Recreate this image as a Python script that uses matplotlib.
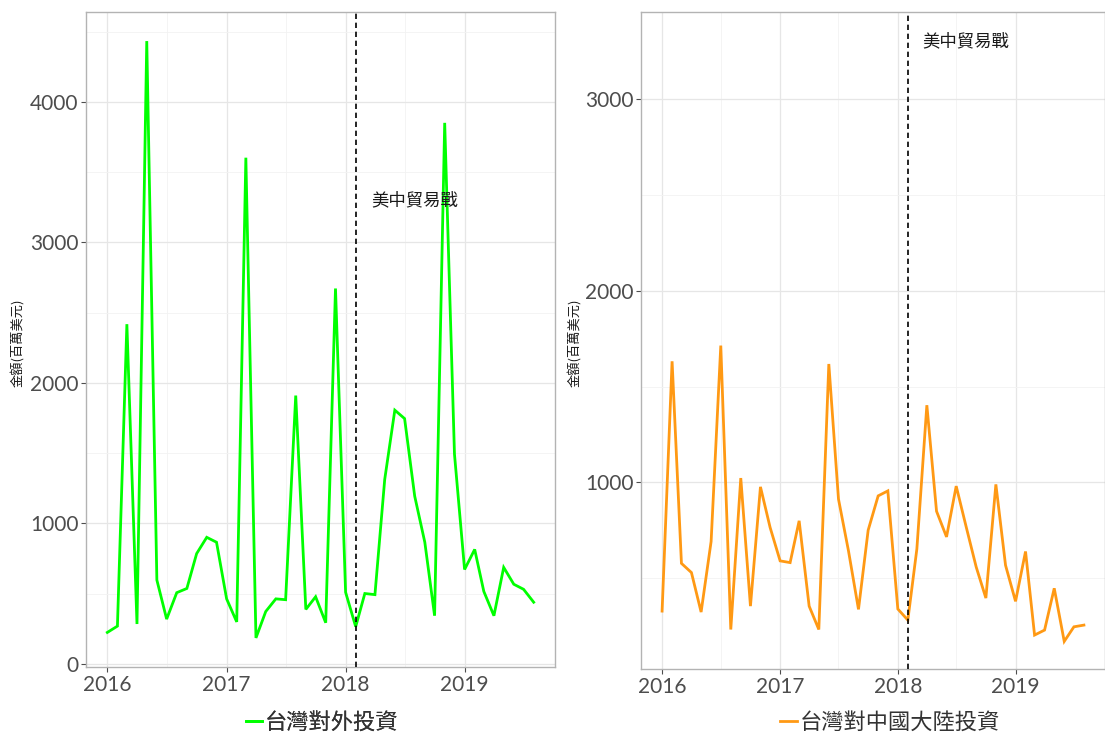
import matplotlib
matplotlib.use("Agg")
import matplotlib.pyplot as plt
import matplotlib.dates as mdates
import pandas as pd
import numpy as np
from matplotlib.lines import Line2D

months = pd.date_range("2016-01-01", "2019-08-01", freq="MS")

outward = [224, 269, 2418, 284, 4433, 597, 319, 507, 537, 785, 901, 866,
           463, 299, 3603, 185, 373, 463, 457, 1910, 388, 478, 293, 2672,
           510, 265, 501, 493, 1313, 1806, 1746, 1194, 866, 343, 3851, 1493,
           672, 815, 516, 343, 687, 567, 531, 439]

china = [329, 1632, 578, 530, 324, 692, 1714, 233, 1023, 355, 977, 765,
         591, 582, 800, 355, 233, 1618, 913, 643, 338, 751, 930, 956,
         340, 282, 653, 1403, 850, 716, 981, 768, 559, 397, 990, 568,
         380, 640, 204, 230, 448, 171, 247, 256]

labels = ["台灣對外投資", "台灣對中國大陸投資"]
colors = ["#00FF00", "#FF9914"]
event_date = pd.Timestamp("2018-02-01")
event_label = "美中貿易戰"
text_date = pd.Timestamp("2018-08-01")
text_y = 3300
ylabel = "金額(百萬美元)"
year_ticks = [pd.Timestamp(f"{y}-01-01") for y in (2016, 2017, 2018, 2019)]
minor_x = [pd.Timestamp(f"{y}-07-01") for y in (2016, 2017, 2018)]

CJK = ["Noto Sans CJK TC", "DejaVu Sans"]
NUM = ["Lato", "DejaVu Sans"]

fig = plt.figure(figsize=(11.05, 7.36), dpi=100)
W, H = 1105, 736
ax1 = fig.add_axes([86 / W, 1 - 667 / H, (555 - 86) / W, (667 - 12) / H])
ax2 = fig.add_axes([641 / W, 1 - 669 / H, (1105 - 641) / W, (669 - 12) / H])

x0 = mdates.date2num(months[0]); x1 = mdates.date2num(months[-1])
pad = (x1 - x0) * 0.05

configs = [
    (ax1, outward, colors[0], labels[0], (-22, 4640), [0, 1000, 2000, 3000, 4000],
     [500, 1500, 2500, 3500, 4500], 18),
    (ax2, china, colors[1], labels[1], (27, 3454), [1000, 2000, 3000],
     [500, 1500, 2500], 575),
]

for ax, vals, col, lab, ylim, yt, ymin, ylab_x in configs:
    ax.plot(months, vals, color=col, lw=2.0, solid_joinstyle="miter", zorder=3)
    ax.axvline(event_date, color="black", ls=(0, (3.2, 2.2)), lw=1.2, zorder=4)
    ax.text(text_date, text_y, event_label, ha="center", va="center",
            fontsize=12.5, family=CJK, color="#1a1a1a", zorder=5)
    ax.set_xticks(year_ticks)
    ax.set_xticklabels([str(d.year) for d in year_ticks])
    ax.set_xticks(minor_x, minor=True)
    ax.set_yticks(yt)
    ax.set_yticks(ymin, minor=True)
    ax.set_xlim(x0 - pad, x1 + pad)
    ax.set_ylim(*ylim)
    ax.grid(True, which="major", color="#E6E6E6", lw=0.9, zorder=0)
    ax.grid(True, which="minor", color="#F2F2F2", lw=0.6, zorder=0)
    ax.set_axisbelow(True)
    for s in ax.spines.values():
        s.set_color("#B3B3B3")
        s.set_linewidth(1.0)
    ax.tick_params(which="major", length=3.5, width=0.8, color="#4D4D4D",
                   labelsize=15, labelcolor="#4D4D4D", pad=2)
    ax.tick_params(which="minor", length=0)
    for t in ax.get_xticklabels() + ax.get_yticklabels():
        t.set_family(NUM)
    fig.text(ylab_x / W, 1 - 343 / H, ylabel, rotation=90, ha="center",
             va="center", fontsize=9.5, family=CJK, color="#1a1a1a")

# legends
def legend_at(cx, label, col):
    leg = fig.legend(handles=[Line2D([], [], color=col, lw=2.0)], labels=[label],
                     loc="center", bbox_to_anchor=(cx / W, 1 - 722 / H),
                     frameon=False, handlelength=0.75, handletextpad=0.1,
                     prop={"family": CJK, "size": 16})
    for t in leg.get_texts():
        t.set_color("#333333")
    return leg

l1 = legend_at(322, labels[0], colors[0])
fig.add_artist(l1)
legend_at(890, labels[1], colors[1])

fig.savefig("out.png", dpi=100, facecolor="white")
